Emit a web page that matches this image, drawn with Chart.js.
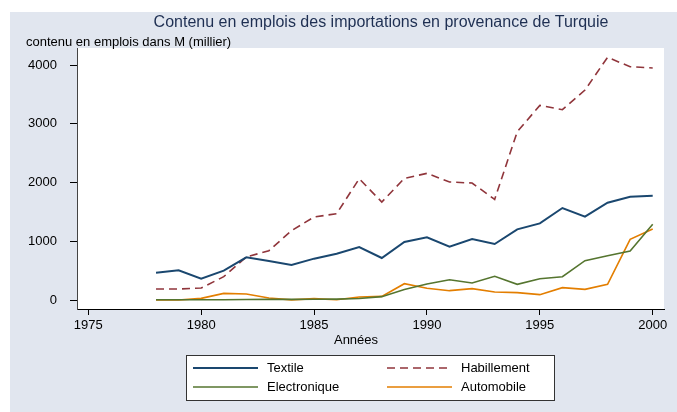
<!DOCTYPE html>
<html>
<head>
<meta charset="utf-8">
<script src="https://cdn.jsdelivr.net/npm/chart.js@4/dist/chart.umd.min.js"></script>
<style>
  body { margin: 0; background: #fff; }
  #wrap { width: 677px; height: 412px; }
</style>
</head>
<body>
<div id="wrap"><canvas id="chartTurquie" width="677" height="412"></canvas></div>
<script>
// values (milliers)
const years = [1978, 1979, 1980, 1981, 1982, 1983, 1984, 1985, 1986, 1987, 1988, 1989,
  1990, 1991, 1992, 1993, 1994, 1995, 1996, 1997, 1998, 1999, 2000];
const textile = [465, 505, 363, 499, 726, 664, 596, 704, 789, 902, 715, 987,
  1067, 908, 1038, 953, 1203, 1305, 1566, 1418, 1657, 1759, 1776];
const habillement = [187, 187, 204, 397, 732, 840, 1180, 1413, 1469, 2065, 1668, 2071,
  2156, 2009, 1991, 1713, 2865, 3313, 3240, 3574, 4131, 3972, 3949];
const electronique = [5, 5, 5, 5, 8, 10, 10, 12, 15, 25, 57, 180,
  272, 346, 289, 403, 267, 363, 397, 670, 755, 834, 1288];
const automobile = [0, 0, 28, 113, 102, 34, 3, 23, 5, 51, 62, 278,
  199, 159, 193, 136, 125, 91, 210, 182, 267, 1033, 1208];

const xTicks = [1975, 1980, 1985, 1990, 1995, 2000];
const yTicks = [0, 1000, 2000, 3000, 4000];

const FONT = 'Liberation Sans, Arial, Helvetica, sans-serif';

function toPoints(vals) {
  return vals.map((v, i) => ({x: years[i], y: v}));
}

const data = {
  datasets: [
    {label: 'Textile', data: toPoints(textile), borderColor: '#1a476f', borderWidth: 2},
    {label: 'Habillement', data: toPoints(habillement), borderColor: '#90353b', borderWidth: 1.6, borderDash: [8, 5]},
    {label: 'Electronique', data: toPoints(electronique), borderColor: '#55752f', borderWidth: 1.6},
    {label: 'Automobile', data: toPoints(automobile), borderColor: '#e37e00', borderWidth: 1.6},
  ]
};

// grey page, white plot region
const backdrop = {
  id: 'backdrop',
  beforeDraw(chart) {
    const c = chart.ctx, a = chart.chartArea;
    c.save();
    c.fillStyle = '#ffffff';
    c.fillRect(0, 0, chart.width, chart.height);
    c.fillStyle = '#e1e6ef';
    c.fillRect(10, 12, chart.width - 10, chart.height - 12);
    c.fillStyle = '#ffffff';
    c.fillRect(a.left, a.top, a.right - a.left, a.bottom - a.top);
    c.restore();
  }
};

// titles + boxed legend in two columns
const texts = {
  id: 'texts',
  afterDraw(chart) {
    const c = chart.ctx;
    c.save();
    c.textBaseline = 'middle';
    c.fillStyle = '#1e2f52';
    c.font = '16px ' + FONT;
    c.textAlign = 'center';
    c.fillText('Contenu en emplois des importations en provenance de Turquie', 381, 23);

    c.fillStyle = '#000';
    c.font = '13px ' + FONT;
    c.textAlign = 'left';
    c.fillText('contenu en emplois dans M (millier)', 26, 42);
    c.textAlign = 'center';
    c.fillText('Années', 356, 340);

    // legend box
    c.fillStyle = '#fff';
    c.fillRect(186, 355, 368, 45);
    c.strokeStyle = '#333';
    c.lineWidth = 1;
    c.strokeRect(186.5, 355.5, 368, 45);

    const cols = [193, 387];
    const rows = [368, 387];
    chart.data.datasets.forEach((ds, i) => {
      const x = cols[i % 2], y = rows[Math.floor(i / 2)];
      c.strokeStyle = ds.borderColor;
      c.lineWidth = ds.borderWidth;
      c.setLineDash(ds.borderDash || []);
      c.beginPath();
      c.moveTo(x, y);
      c.lineTo(x + 65, y);
      c.stroke();
      c.setLineDash([]);
      c.fillStyle = '#000';
      c.textAlign = 'left';
      c.fillText(ds.label, x + 74, y);
    });
    c.restore();
  }
};

const config = {
  type: 'line',
  data: data,
  options: {
    responsive: false,
    animation: false,
    devicePixelRatio: 1,
    layout: {padding: {top: 48, right: 13, left: 0, bottom: 0}},
    elements: {point: {radius: 0}, line: {tension: 0}},
    plugins: {
      legend: {display: false},
      title: {display: false},
      tooltip: {enabled: false}
    },
    scales: {
      x: {
        type: 'linear',
        min: 1974.5,
        max: 2000.5,
        afterBuildTicks: (s) => { s.ticks = xTicks.map(v => ({value: v})); },
        afterFit: (s) => { s.height = 103; },
        ticks: {
          color: '#000',
          font: {family: FONT, size: 13},
          padding: 3,
          maxRotation: 0,
          callback: (v) => String(v)
        },
        grid: {drawOnChartArea: false, tickLength: 6, color: '#000'},
        border: {color: '#000', width: 1}
      },
      y: {
        type: 'linear',
        min: -153,
        max: 4290,
        afterBuildTicks: (s) => { s.ticks = yTicks.map(v => ({value: v})); },
        afterFit: (s) => { s.width = 77; },
        ticks: {
          color: '#000',
          font: {family: FONT, size: 13},
          padding: 13,
          callback: (v) => String(v)
        },
        grid: {drawOnChartArea: false, tickLength: 7, color: '#000'},
        border: {color: '#444', width: 1}
      }
    }
  },
  plugins: [backdrop, texts]
};

new Chart(document.getElementById('chartTurquie'), config);
</script>
</body>
</html>
